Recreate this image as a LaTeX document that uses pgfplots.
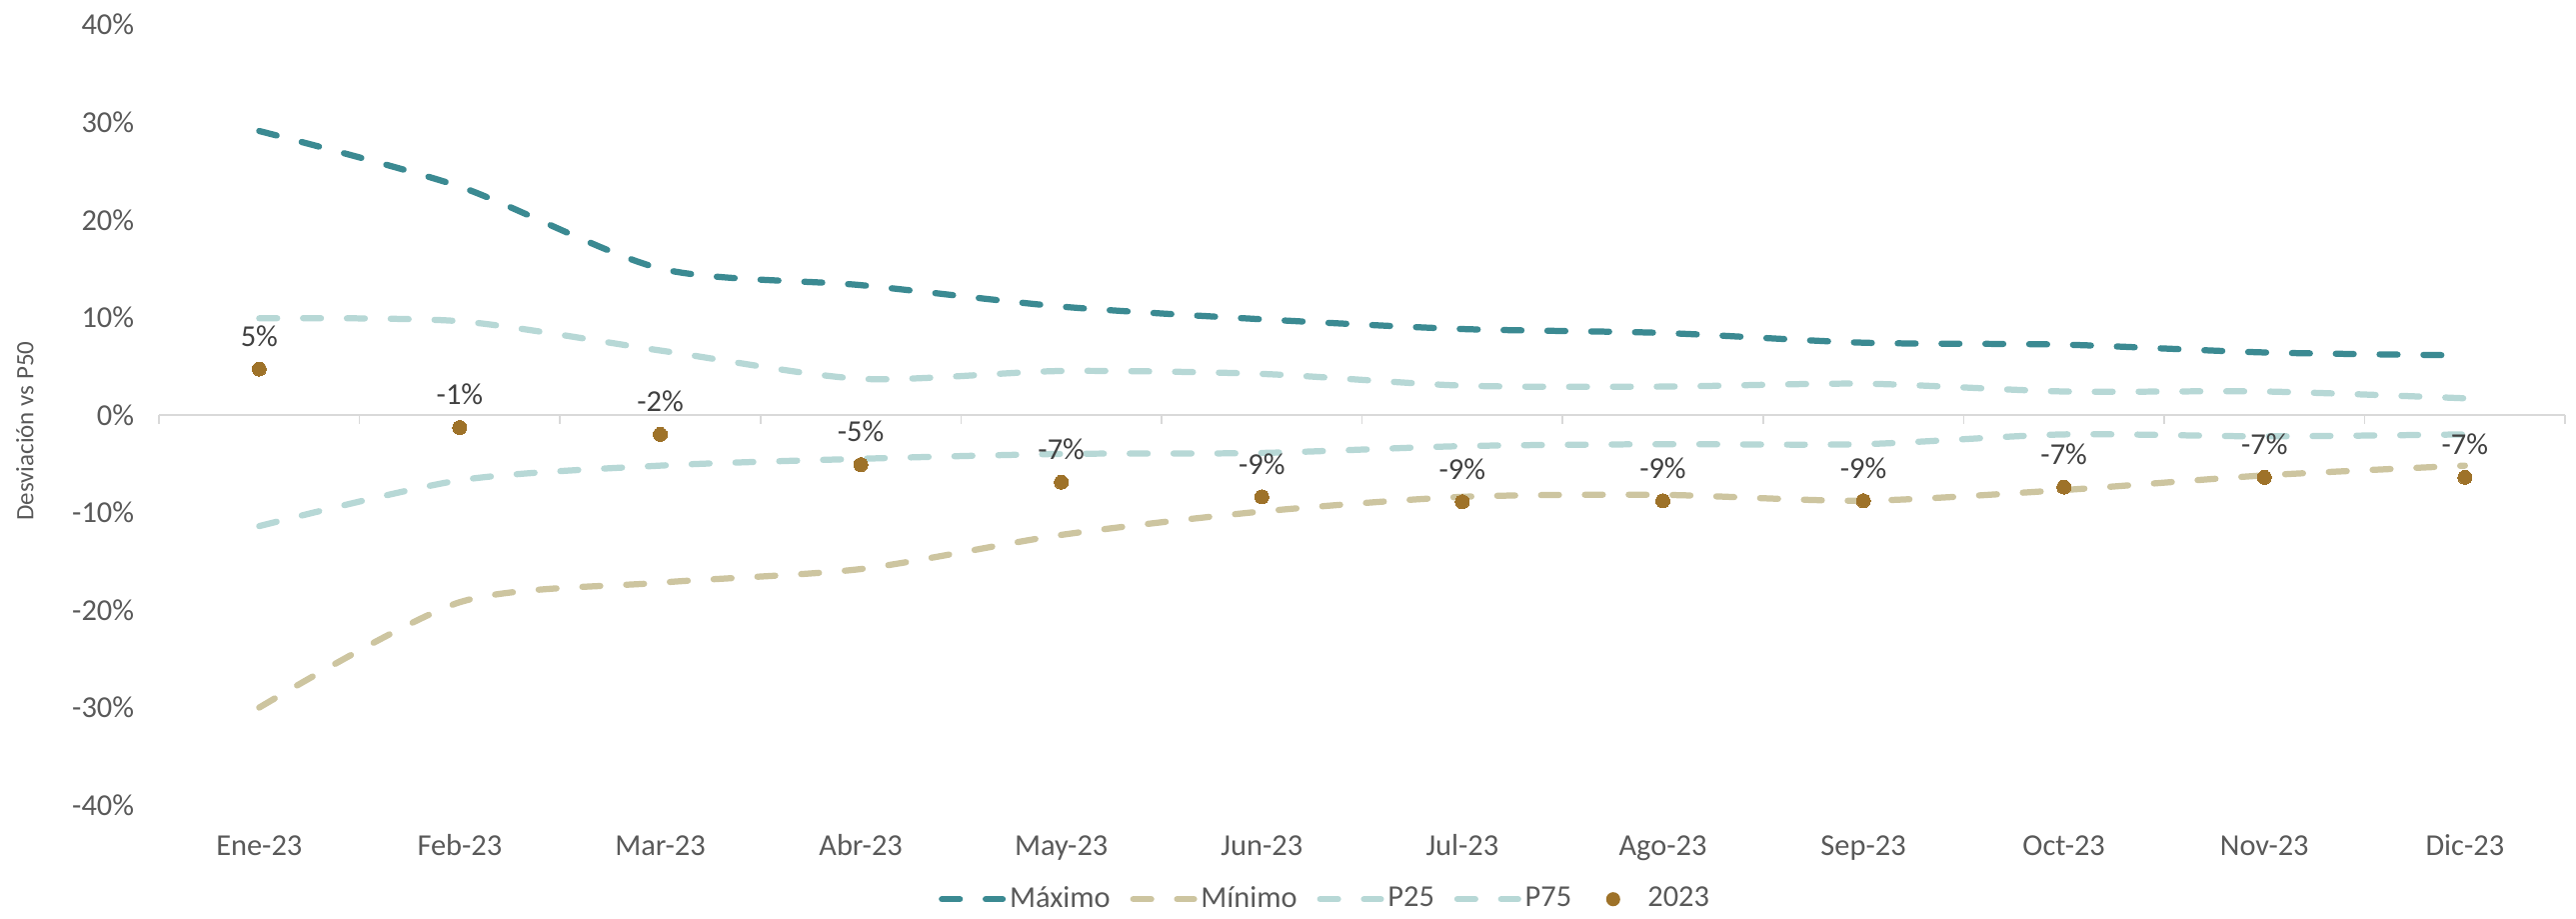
\documentclass[border=0pt]{standalone}
\usepackage{pgfplots}
\pgfplotsset{compat=1.18}
\usepackage{fontspec}
\setmainfont{Carlito}
\definecolor{cmax}{HTML}{3B8A92}
\definecolor{cmin}{HTML}{CDC5A0}
\definecolor{cpct}{HTML}{B7D8D6}
\definecolor{cdot}{HTML}{9E7229}
\definecolor{tickgray}{HTML}{595959}
\definecolor{labgray}{HTML}{404040}
\definecolor{zline}{HTML}{D9D9D9}
\begin{document}
\begin{tikzpicture}
\begin{axis}[
  at={(49.7pt,35.3pt)}, anchor=south west,
  scale only axis, width=752.2pt, height=243.9pt,
  xmin=-0.5, xmax=11.5, ymin=-40, ymax=40,
  axis line style={draw=none},
  major tick length=0pt,
  clip=false,
  xtick={0,...,11},
  xticklabels={Ene-23,Feb-23,Mar-23,Abr-23,May-23,Jun-23,Jul-23,Ago-23,Sep-23,Oct-23,Nov-23,Dic-23},
  ytick={-40,-30,...,40},
  yticklabels={-40\%,-30\%,-20\%,-10\%,0\%,10\%,20\%,30\%,40\%},
  tick label style={font=\fontsize{9.5}{11}\selectfont, text=tickgray},
  xticklabel style={anchor=base, inner sep=0pt, yshift=-15.6pt},
  yticklabel style={anchor=east, inner sep=0pt, xshift=-7.6pt},
  legend columns=5,
  legend style={draw=none, fill=none, at={(0.485,0)}, anchor=center, yshift=-29.4pt,
    font=\fontsize{9.5}{11}\selectfont, text=tickgray,
    nodes={inner sep=1.2pt},
    /tikz/every even column/.append style={column sep=5pt},
    inner sep=0pt},
  legend image code/.code={\draw[#1] (0pt,0pt) -- (19pt,0pt);},
  every axis plot/.append style={line width=1.95pt, line cap=round, dash pattern=on 5.6pt off 8.1pt, smooth, tension=0.45},
]
\pgfplotsinvokeforeach{-0.5,0.5,1.5,2.5,3.5,4.5,5.5,6.5,7.5,8.5,9.5,10.5,11.5}{
  \draw[zline, line width=0.5pt] (axis cs:#1,0) -- ([yshift=-3pt]axis cs:#1,0);
}
\draw[zline, line width=0.6pt] (axis cs:-0.5,0) -- (axis cs:11.5,0);

\addplot[cmax] coordinates {(0,29.1) (1,23.4) (2,15.0) (3,13.3) (4,11.1) (5,9.8) (6,8.8) (7,8.4) (8,7.4) (9,7.2) (10,6.4) (11,6.1)};
\addlegendentry{Máximo}
\addplot[cmin] coordinates {(0,-30.0) (1,-19.2) (2,-17.2) (3,-15.8) (4,-12.3) (5,-9.9) (6,-8.4) (7,-8.2) (8,-8.8) (9,-7.7) (10,-6.2) (11,-5.2)};
\addlegendentry{Mínimo}
\addplot[cpct] coordinates {(0,-11.4) (1,-6.7) (2,-5.2) (3,-4.5) (4,-4.0) (5,-3.9) (6,-3.2) (7,-3.0) (8,-3.0) (9,-2.0) (10,-2.2) (11,-2.0)};
\addlegendentry{P25}
\addplot[cpct] coordinates {(0,9.9) (1,9.6) (2,6.6) (3,3.7) (4,4.5) (5,4.2) (6,3.0) (7,2.9) (8,3.2) (9,2.4) (10,2.4) (11,1.7)};
\addlegendentry{P75}
\addplot[only marks, mark=*, mark size=2.2pt, solid, draw=none, fill=cdot, mark options={draw=cdot, fill=cdot, line width=0pt},
  legend image code/.code={\path[draw=none, fill=none] (0pt,0pt) -- (16.4pt,0pt); \fill[cdot] (6.8pt,0pt) circle (2.2pt);},
  point meta=explicit symbolic,
  nodes near coords={\pgfplotspointmeta\%},
  every node near coord/.append style={font=\fontsize{9.5}{11}\selectfont, text=labgray, anchor=center, yshift=10.3pt}]
  coordinates {(0,4.7) [5] (1,-1.3) [-1] (2,-2.0) [-2] (3,-5.1) [-5] (4,-6.9) [-7] (5,-8.4) [-9] (6,-8.9) [-9] (7,-8.8) [-9] (8,-8.8) [-9] (9,-7.4) [-7] (10,-6.4) [-7] (11,-6.4) [-7]};
\addlegendentry{2023}
\end{axis}
\node[rotate=90, font=\fontsize{7.8}{9}\selectfont, text=tickgray] at (7.8pt,152.2pt) {Desviación vs P50};
\pgfresetboundingbox
\path[use as bounding box] (0,0) rectangle (805.3pt,286.9pt);
\end{tikzpicture}
\end{document}
